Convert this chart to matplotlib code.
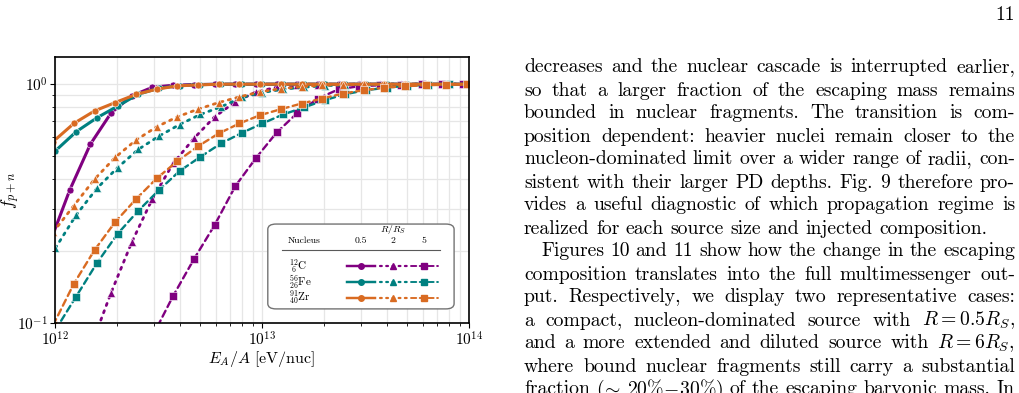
import numpy as np
import matplotlib
matplotlib.use("Agg")
import matplotlib.pyplot as plt
from matplotlib.patches import FancyBboxPatch
from matplotlib.ticker import NullFormatter

plt.rcParams['font.family'] = 'cmr10'
plt.rcParams['mathtext.fontset'] = 'cm'
plt.rcParams['axes.formatter.use_mathtext'] = True

# E_A/A grid: log10 of first point for each nucleus, step 0.1 dex
x0_C, x0_Fe, x0_Zr = 11.971, 12.002, 11.991

# fraction of escaping mass in nucleons, R/R_S = 0.5, 2, 5
C_05 = [0.212, 0.360, 0.561, 0.758, 0.894, 0.971, 0.990, 0.997, 0.999, 1.0, 1.0,
        1.0, 1.0, 1.0, 1.0, 1.0, 1.0, 1.0, 1.0, 1.0, 1.0, 1.0]
C_2 = [0.020, 0.040, 0.0786, 0.134, 0.218, 0.332, 0.466, 0.593, 0.730, 0.843, 0.928,
       0.971, 0.990, 0.997, 1.0, 1.0, 1.0, 1.0, 1.0, 1.0, 1.0, 1.0]
C_5 = [0.010, 0.015, 0.025, 0.040, 0.060, 0.088, 0.130, 0.185, 0.257, 0.374, 0.491,
       0.628, 0.758, 0.871, 0.953, 0.981, 0.990, 0.995, 1.0, 1.0, 1.0, 1.0]

Fe_05 = [0.526, 0.632, 0.723, 0.809, 0.908, 0.962, 0.986, 0.996, 1.0, 1.0, 1.0,
         1.0, 1.0, 1.0, 1.0, 1.0, 1.0, 1.0, 1.0, 1.0, 1.0]
Fe_2 = [0.206, 0.283, 0.366, 0.447, 0.533, 0.606, 0.678, 0.747, 0.804, 0.880, 0.923,
        0.953, 0.971, 0.986, 0.993, 1.0, 1.0, 1.0, 1.0, 1.0, 1.0]
Fe_5 = [0.0935, 0.129, 0.178, 0.236, 0.295, 0.360, 0.433, 0.496, 0.565, 0.625, 0.685,
        0.747, 0.799, 0.857, 0.908, 0.944, 0.967, 0.986, 0.993, 1.0, 1.0]

Zr_05 = [0.575, 0.685, 0.773, 0.838, 0.906, 0.953, 0.984, 0.993, 1.0, 1.0, 1.0,
         1.0, 1.0, 1.0, 1.0, 1.0, 1.0, 1.0, 1.0, 1.0, 1.0, 1.0]
Zr_2 = [0.240, 0.310, 0.400, 0.494, 0.583, 0.663, 0.730, 0.786, 0.838, 0.885, 0.929,
        0.958, 0.976, 0.990, 0.995, 1.0, 1.0, 1.0, 1.0, 1.0, 1.0, 1.0]
Zr_5 = [0.098, 0.146, 0.202, 0.265, 0.330, 0.403, 0.476, 0.550, 0.622, 0.685, 0.742,
        0.786, 0.830, 0.871, 0.914, 0.944, 0.967, 0.981, 0.990, 0.995, 1.0, 1.0]

nuc_labels = [r'${}^{12}_{\ 6}$C', r'${}^{56}_{26}$Fe', r'${}^{91}_{40}$Zr']
radii = ['0.5', '2', '5']
colors = ['#800080', '#008080', '#d96b22']

body = [
    "decreases and the nuclear cascade is interrupted earlier,",
    "so that a larger fraction of the escaping mass remains",
    "bounded in nuclear fragments.  The transition is com-",
    "position dependent: heavier nuclei remain closer to the",
    "nucleon-dominated limit over a wider range of radii, con-",
    "sistent with their larger PD depths. Fig. 9 therefore pro-",
    "vides a useful diagnostic of which propagation regime is",
    "realized for each source size and injected composition.",
    "Figures 10 and 11 show how the change in the escaping",
    "composition translates into the full multimessenger out-",
    "put.  Respectively, we display two representative cases:",
    r"a compact, nucleon-dominated source with $R=0.5R_S$,",
    r"and a more extended and diluted source with $R=6R_S$,",
    "where bound nuclear fragments still carry a substantial",
    r"fraction ($\!\sim\!$ $20\%\!-\!30\%$) of the escaping baryonic mass. In",
]

W, H = 1020, 393
fig = plt.figure(figsize=(W / 100, H / 100), dpi=100)
ax = fig.add_axes([55 / W, 1 - 323 / H, 414 / W, 266 / H])

series = [(x0_C, [C_05, C_2, C_5]), (x0_Fe, [Fe_05, Fe_2, Fe_5]), (x0_Zr, [Zr_05, Zr_2, Zr_5])]
styles = [('-', 'o', 2.2, 5.0), ((0, (0.8, 2.0)), '^', 2.0, 5.8), ((0, (2.8, 1.8)), 's', 1.7, 5.2)]
for (x0, sets), col in zip(series, colors):
    for vals, (ls, mk, lw, ms) in zip(sets, styles):
        x = 10 ** (x0 + 0.1 * np.arange(len(vals)))
        ax.plot(x, vals, ls=ls, marker=mk, color=col, lw=lw, ms=ms,
                mec='white', mew=0.4, dash_capstyle='round')

ax.set_xscale('log')
ax.set_yscale('log')
ax.set_xlim(1e12, 1e14)
ax.set_ylim(0.1, 1.3)
ax.yaxis.set_minor_formatter(NullFormatter())
ax.grid(True, which='both', color='#e6e6e6', lw=0.9)
ax.set_axisbelow(True)
for s in ax.spines.values():
    s.set_linewidth(1.2)
ax.tick_params(labelsize=11, pad=2)
ax.set_xlabel(r'$E_A/A$ [eV/nuc]', fontsize=11.5)
ax.set_ylabel(r'$f_{p+n}$', fontsize=12.5)
ax.xaxis.set_label_coords(0.5, -0.098)
ax.yaxis.set_label_coords(-0.08, 0.5)

# table-like legend
T = ax.transAxes
ax.add_patch(FancyBboxPatch((0.514, 0.053), 0.45, 0.319, transform=T,
                            boxstyle='round,pad=0,rounding_size=0.02',
                            fc='white', ec='0.45', lw=1.0, zorder=5))
fs = 7
ax.text(0.816, 0.350, r'$R/R_S$', transform=T, fontsize=fs, ha='center', va='center', zorder=6)
ax.text(0.602, 0.308, 'Nucleus', transform=T, fontsize=fs, ha='center', va='center', zorder=6)
col_x = [0.739, 0.817, 0.892]
for cx, r in zip(col_x, radii):
    ax.text(cx, 0.308, r, transform=T, fontsize=fs, ha='center', va='center', zorder=6)
ax.plot([0.548, 0.930], [0.274, 0.274], transform=T, color='0.35', lw=0.8, zorder=6)
row_y = [0.215, 0.155, 0.095]
for ry, lab, col in zip(row_y, nuc_labels, colors):
    ax.text(0.565, ry, lab, transform=T, fontsize=8, ha='left', va='center', zorder=6)
    for cx, (ls, mk, lw, ms) in zip(col_x, styles):
        ax.plot([cx - 0.033, cx + 0.033], [ry, ry], transform=T, ls=ls, color=col,
                lw=lw * 0.8, zorder=6, dash_capstyle='round')
        ax.plot([cx], [ry], transform=T, marker=mk, color=col, ms=ms * 0.8, zorder=7)

# page text, justified
FS = 14.2
fig.text(1015 / W, 1 - 20 / H, '11', fontsize=FS, ha='right', va='baseline')
fig.canvas.draw()
rend = fig.canvas.get_renderer()
xl, xr = 524, 1015
for i, line in enumerate(body):
    ybase = 72.5 + 23.0 * i
    words = [w for w in line.split(' ') if w != '']
    left = xl + (17 if i == 8 else 0)
    ts = [fig.text(0, 1 - ybase / H, w, fontsize=FS, ha='left', va='baseline') for w in words]
    ws = [t.get_window_extent(rend).width for t in ts]
    if i == 7:
        gap = 0.33 * FS * 100 / 72
    else:
        gap = (xr - left - sum(ws)) / (len(ws) - 1)
    x = left
    for t, w in zip(ts, ws):
        t.set_x(x / W)
        x += w + gap

fig.savefig('out.png', dpi=100)
